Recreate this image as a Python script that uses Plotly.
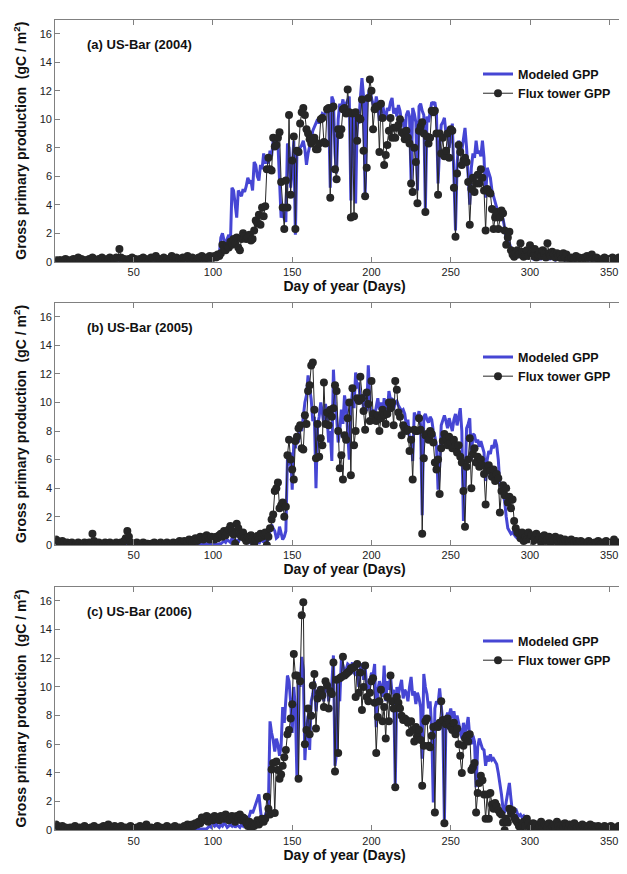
import plotly.graph_objects as go

# ---------------- data (daily GPP, gC/m2) ----------------
flux_2004_early = [
    0.1,0.0,0.1,0.1,0.0,0.1,0.2,0.1,0.0,0.1, 0.1,0.2,0.0,0.1,0.3,0.1,0.2,0.0,0.1,0.1,
    0.0,0.2,0.1,0.3,0.1,0.0,0.1,0.2,0.1,0.3, 0.2,0.1,0.0,0.2,0.3,0.1,0.2,0.1,0.3,0.2,
    0.9,0.3,0.1,0.2,0.0,0.1,0.2,0.1,0.3,0.1, 0.2,0.1,0.0,0.2,0.1,0.3,0.2,0.1,0.0,0.2,
    0.3,0.1,0.2,0.4,0.1,0.2,0.0,0.1,0.3,0.1, 0.2,0.0,0.1,0.4,0.2,0.1,0.3,0.0,0.2,0.1,
    0.3,0.2,0.1,0.4,0.2,0.1,0.3,0.2,0.0,0.1, 0.3,0.2,0.4,0.1,0.2,0.3,0.1,0.4,0.2,0.3]
flux_2004_season = [
    0.4,0.3,0.5,0.4,0.6,1.2,0.9,0.8,1.1,1.0, 1.4,1.2,1.6,1.3,1.7,1.0,0.8,1.6,2.0,1.8,
    1.6,1.7,1.9,1.5,1.6,2.2,2.9,2.7,3.3,2.6, 3.8,3.2,3.9,6.5,7.3,6.5,6.4,8.7,8.1,8.2,
    8.7,9.1,5.6,3.8,2.3,5.7,3.8,10.3,4.7,7.1, 8.8,2.3,7.8,7.7,9.7,10.5,10.8,10.3,9.3,9.0,
    8.6,8.3,8.5,8.7,7.9,7.9,8.3,10.0,10.1,8.4, 8.3,10.7,10.8,4.5,10.8,10.9,6.5,5.8,9.3,8.9,
    9.3,10.7,10.8,10.4,12.1,10.5,3.1,10.4,3.2,10.5, 8.5,10.1,10.0,11.4,7.8,4.6,6.6,11.5,12.8,12.0,
    9.3,10.7,10.9,10.9,7.7,11.1,10.1,6.8,7.5,8.2, 9.2,10.1,8.7,9.4,8.7,9.4,9.6,10.0,9.1,9.0,
    8.6,9.2,8.7,8.3,5.5,4.9,8.0,7.0,4.1,9.2, 9.5,9.8,9.0,3.5,8.8,8.3,8.7,10.6,10.5,10.6,
    9.0,4.7,9.0,7.6,8.7,7.4,7.8,9.0,7.3,9.3, 9.2,5.2,1.75,6.2,8.2,7.7,6.8,7.1,7.3,7.0,
    5.6,2.6,5.1,5.9,4.9,5.5,6.1,5.5,6.5,5.9, 5.0,2.2,5.1,4.9,4.8,3.7,2.3,3.1,3.5,2.3,
    3.1,3.6,3.4,2.2,1.2,1.7,2.1,0.8,0.5,0.35, 0.6,0.8,0.5,1.3,0.7,0.35,0.5,0.8,0.4,1.15]
flux_2004_late = [
    0.6,0.4,0.9,0.3,0.5,0.7,0.4,0.8,0.5,0.3, 1.3,0.6,0.4,0.7,0.5,0.3,0.6,0.4,0.5,0.2,
    0.6,0.3,0.5,0.1,0.2,0.3,0.1,0.2,0.4,0.1, 0.3,0.2,0.1,0.3,0.2,0.4,0.1,0.3,0.5,0.2,
    0.1,0.3,0.2,0.0,0.1,0.2,0.3,0.1,0.0,0.2, 0.1,0.3,0.2,0.0,0.1,0.3,0.2,0.1,0.2,0.3,
    0.1,0.2,0.3,0.1,0.2]

model_2004_early = [
    0.1,0.1,0.0,0.1,0.1,0.1,0.1,0.0,0.1,0.1, 0.1,0.1,0.1,0.0,0.1,0.1,0.1,0.1,0.0,0.1,
    0.1,0.1,0.1,0.1,0.0,0.1,0.1,0.1,0.1,0.1, 0.0,0.1,0.1,0.1,0.1,0.0,0.1,0.1,0.1,0.1,
    0.1,0.1,0.0,0.1,0.1,0.1,0.1,0.1,0.0,0.1, 0.1,0.1,0.1,0.0,0.1,0.1,0.1,0.1,0.1,0.0,
    0.1,0.1,0.1,0.1,0.1,0.0,0.1,0.1,0.1,0.1, 0.1,0.0,0.1,0.1,0.1,0.1,0.1,0.1,0.0,0.1,
    0.1,0.1,0.1,0.1,0.1,0.1,0.0,0.1,0.1,0.1, 0.1,0.1,0.1,0.1,0.2,0.1,0.1,0.2,0.1,0.2]
model_2004_season = [
    0.2,0.2,0.3,0.5,1.7,2.0,1.5,1.3,1.6,1.9, 1.2,5.2,5.0,4.0,3.1,5.0,4.8,4.6,5.1,4.9,
    5.3,5.9,5.6,5.7,5.0,7.0,6.8,6.0,5.7,6.8, 6.5,7.6,6.9,7.2,6.9,7.8,7.4,8.5,8.0,8.5,
    8.3,5.2,3.1,3.6,3.0,2.8,8.3,8.0,5.2,6.4, 8.5,1.9,7.8,7.6,8.0,8.2,8.5,7.9,6.8,7.6,
    8.0,8.6,9.2,9.5,9.8,10.0,9.7,10.1,10.4,10.3, 10.5,10.9,10.6,5.2,11.6,11.3,7.6,6.2,10.0,11.1,
    10.8,11.4,10.7,11.1,11.3,11.6,4.3,10.2,10.7,4.1, 10.0,9.7,11.5,12.9,11.6,4.5,11.3,11.8,12.2,11.5,
    11.0,10.6,11.6,11.0,9.9,10.5,11.1,10.4,10.0,10.8, 10.6,11.2,11.5,10.4,10.8,10.2,11.0,10.6,9.8,10.0,
    8.7,10.3,10.6,10.2,5.6,10.8,10.4,9.8,5.0,10.9, 11.1,10.6,10.3,3.6,10.2,9.8,10.5,11.2,11.1,11.2,
    10.4,5.5,8.0,9.6,9.8,10.1,9.0,9.4,8.0,9.0, 9.7,6.0,2.2,6.8,8.5,8.2,7.8,8.6,9.4,8.0,
    5.9,4.0,6.6,7.6,7.3,8.5,7.6,7.8,7.4,8.5, 7.3,4.5,6.6,6.3,5.9,5.0,4.6,4.2,3.8,3.4,
    3.6,3.4,3.0,2.4,1.5,1.6,1.3,1.0,0.6,0.5, 0.5,0.6,0.4,0.5,0.4,0.3,0.4,0.3,0.4,0.3]
model_2004_late = [
    0.3,0.2,0.3,0.2,0.3,0.2,0.2,0.3,0.2,0.2, 0.3,0.2,0.2,0.3,0.2,0.1,0.2,0.2,0.3,0.2,
    0.2,0.1,0.2,0.2,0.1,0.2,0.2,0.1,0.2,0.3, 0.2,0.3,0.4,0.3,0.2,0.2,0.1,0.2,0.1,0.1,
    0.2,0.1,0.1,0.2,0.1,0.1,0.1,0.2,0.1,0.1, 0.1,0.2,0.1,0.1,0.1,0.2,0.1,0.1,0.1,0.1,
    0.1,0.1,0.2,0.1,0.1]

flux_2005_early = [
    0.4,0.3,0.2,0.1,0.3,0.2,0.1,0.2,0.0,0.1, 0.2,0.1,0.0,0.1,0.2,0.1,0.0,0.1,0.2,0.0,
    0.1,0.2,0.1,0.8,0.3,0.1,0.0,0.2,0.1,0.0, 0.1,0.2,0.1,0.0,0.2,0.1,0.0,0.1,0.2,0.1,
    0.0,0.2,0.1,0.3,0.5,1.0,0.6,0.2,0.1,0.0, 0.1,0.2,0.1,0.0,0.1,0.2,0.0,0.1,0.1,0.0,
    0.1,0.0,0.2,0.1,0.0,0.1,0.2,0.1,0.0,0.1, 0.2,0.0,0.1,0.1,0.2,0.0,0.1,0.2,0.3,0.1,
    0.2,0.3,0.1,0.2,0.4,0.3,0.2,0.4,0.5,0.3, 0.4,0.6,0.5,0.4,0.6,0.7,0.5,0.4,0.6,0.5]
flux_2005_season = [
    0.4,0.6,0.5,0.7,0.8,0.6,1.0,0.7,0.9,1.1, 1.35,1.0,0.75,0.1,1.5,1.2,0.75,0.6,0.9,0.5,
    0.3,0.6,0.4,0.7,0.5,0.1,0.4,0.65,0.5,0.8, 0.6,0.75,0.9,0.0,0.6,1.2,1.8,2.15,3.8,4.0,
    4.4,2.6,2.8,3.0,2.0,2.7,6.3,7.4,6.0,5.3, 4.6,7.3,7.6,8.2,8.4,6.8,6.7,9.1,8.5,10.8,
    11.2,12.6,12.8,9.5,6.1,8.5,6.2,7.5,7.0,11.4, 8.5,9.3,8.4,9.5,9.0,9.6,11.2,10.8,8.0,5.4,
    6.3,4.6,7.7,7.4,8.9,10.0,4.9,11.0,7.0,8.0, 10.3,10.1,11.8,10.3,9.4,8.1,10.7,9.9,8.7,11.5,
    9.2,8.8,8.7,9.1,8.0,8.9,9.5,9.1,8.5,9.2, 10.0,9.6,10.0,8.4,11.5,10.9,9.3,9.0,7.7,8.4,
    8.2,8.0,8.1,6.6,7.4,4.6,8.1,8.0,8.0,8.9, 8.1,0.8,6.1,7.7,7.8,7.4,8.0,7.8,7.2,5.8,
    5.3,6.0,3.6,6.8,7.3,7.8,7.5,7.0,7.6,7.2, 6.8,7.4,7.0,6.5,7.0,6.2,5.8,3.8,1.3,5.5,
    6.0,7.5,4.0,6.4,6.8,5.8,6.2,5.5,6.0,5.6, 5.0,2.85,5.3,5.6,5.2,4.8,5.3,4.5,5.0,4.7,
    2.3,3.8,4.2,3.5,4.0,3.0,3.4,2.6,3.2,1.7, 1.2,0.9,0.8,0.5,0.9,0.3,0.6,0.4,0.9,0.5]
flux_2005_late = [
    0.7,0.3,0.5,0.8,0.4,0.6,0.2,0.5,0.7,0.3, 0.4,0.6,0.2,0.5,0.3,0.6,0.4,0.2,0.5,0.3,
    0.2,0.4,0.1,0.3,0.2,0.4,0.1,0.2,0.3,0.1, 0.2,0.3,0.1,0.2,0.0,0.1,0.3,0.2,0.1,0.0,
    0.2,0.1,0.3,0.0,0.1,0.2,0.1,0.3,0.2,0.0, 0.1,0.2,0.4,0.1,0.2,0.0,0.1,0.3,0.2,0.1,
    0.2,0.3,0.1,0.2,0.3]

model_2005_early = [
    0.1,0.1,0.0,0.1,0.1,0.0,0.1,0.1,0.1,0.0, 0.1,0.1,0.0,0.1,0.1,0.1,0.0,0.1,0.1,0.1,
    0.0,0.1,0.1,0.1,0.1,0.0,0.1,0.1,0.0,0.1, 0.1,0.1,0.0,0.1,0.1,0.1,0.1,0.0,0.1,0.1,
    0.0,0.1,0.1,0.1,0.1,0.1,0.0,0.1,0.1,0.0, 0.1,0.1,0.1,0.0,0.1,0.1,0.1,0.1,0.0,0.1,
    0.1,0.0,0.1,0.1,0.1,0.0,0.1,0.1,0.1,0.1, 0.0,0.1,0.1,0.1,0.0,0.1,0.1,0.1,0.1,0.0,
    0.1,0.1,0.1,0.0,0.1,0.1,0.1,0.1,0.1,0.0, 0.1,0.1,0.1,0.1,0.0,0.1,0.1,0.1,0.1,0.1]
model_2005_season = [
    0.1,0.1,0.0,0.1,0.1,0.2,0.3,0.2,0.4,0.3, 0.2,0.5,0.3,0.1,0.4,0.2,0.5,0.6,0.8,0.5,
    0.3,0.2,0.4,0.1,0.3,0.0,0.2,0.4,0.1,0.3, 0.5,0.2,0.4,0.1,0.6,1.0,1.45,1.2,1.0,0.5,
    0.6,1.3,0.8,0.4,0.6,1.0,6.1,5.6,6.5,3.9, 7.2,6.8,7.7,7.2,8.4,8.0,9.0,10.0,10.5,11.9,
    11.0,10.2,8.7,9.0,4.0,8.4,9.0,10.0,9.3,8.4, 9.9,9.0,7.2,8.0,5.9,12.3,10.0,9.0,7.2,8.0,
    9.5,8.5,10.5,9.8,7.9,6.0,9.5,10.8,9.6,12.1, 11.0,11.4,10.0,10.6,9.6,10.6,9.4,12.6,10.0,9.1,
    9.5,9.0,9.7,10.3,9.5,10.0,9.0,10.3,9.6,9.2, 10.8,10.2,10.3,9.5,10.0,10.1,9.8,9.6,9.4,9.5,
    9.2,8.4,8.8,7.4,7.6,5.9,9.3,9.0,8.8,9.4, 8.4,2.1,9.0,9.2,8.8,8.6,9.0,8.8,8.0,7.6,
    7.0,3.9,5.5,8.4,8.8,9.1,8.7,8.2,8.9,8.5, 8.0,8.8,9.2,8.4,9.0,9.6,8.0,1.7,4.5,8.2,
    8.5,8.9,6.0,7.8,7.7,7.2,7.4,6.9,7.3,6.8, 6.5,4.5,6.0,6.6,6.4,7.0,6.8,7.4,7.0,6.0,
    4.2,4.0,3.5,3.1,2.0,1.2,1.0,0.8,0.9,0.7, 0.6,0.5,0.6,0.5,0.4,0.4,0.5,0.4,0.3,0.4]
model_2005_late = [
    0.4,0.3,0.4,0.3,0.4,0.3,0.3,0.4,0.3,0.3, 0.3,0.2,0.3,0.3,0.2,0.3,0.2,0.2,0.3,0.2,
    0.2,0.3,0.2,0.2,0.2,0.1,0.2,0.2,0.1,0.2, 0.2,0.2,0.1,0.2,0.1,0.1,0.2,0.1,0.1,0.2,
    0.1,0.1,0.2,0.1,0.1,0.1,0.2,0.1,0.1,0.1, 0.1,0.1,0.1,0.2,0.1,0.1,0.1,0.1,0.1,0.1,
    0.1,0.1,0.1,0.1,0.1]

flux_2006_early = [
    0.4,0.3,0.1,0.2,0.3,0.1,0.2,0.0,0.1,0.2, 0.1,0.2,0.3,0.1,0.0,0.2,0.1,0.1,0.3,0.2,
    0.1,0.0,0.2,0.1,0.3,0.2,0.1,0.0,0.2,0.1, 0.3,0.1,0.2,0.4,0.1,0.0,0.2,0.3,0.1,0.2,
    0.1,0.3,0.0,0.2,0.1,0.2,0.1,0.3,0.2,0.0, 0.1,0.2,0.1,0.3,0.2,0.0,0.1,0.4,0.2,0.1,
    0.2,0.0,0.1,0.2,0.3,0.1,0.2,0.0,0.1,0.2, 0.3,0.1,0.0,0.2,0.1,0.3,0.2,0.1,0.2,0.0,
    0.1,0.3,0.2,0.4,0.2,0.3,0.4,0.3,0.5,0.4, 0.6,0.5,0.9,0.7,0.8,1.0,0.6,0.9,0.8,0.7]
flux_2006_season = [
    1.0,0.8,0.9,0.7,1.0,0.9,0.8,1.1,0.9,0.7, 0.8,1.0,0.9,0.6,1.0,0.8,1.1,0.7,0.9,0.8,
    0.5,0.3,0.6,0.2,0.4,0.3,0.5,0.7,0.4,0.6, 0.8,0.6,0.8,2.35,1.5,1.1,4.25,4.7,1.2,4.8,
    4.2,3.6,3.9,4.5,5.1,5.6,6.7,7.0,7.8,8.8, 12.3,10.8,10.8,3.6,10.4,15.0,15.9,6.0,7.0,8.5,
    6.7,8.0,10.1,10.9,7.1,9.2,9.6,9.8,9.4,8.6, 10.4,10.1,8.5,9.7,9.5,11.7,4.1,10.5,5.4,10.6,
    10.7,12.1,10.8,10.9,11.0,11.1,11.3,11.3,11.4,9.3, 11.6,9.6,11.0,8.4,10.0,11.5,9.3,9.0,9.6,10.4,
    10.6,8.9,5.4,7.9,9.0,9.8,7.6,8.6,6.4,9.3, 7.6,10.8,9.0,8.5,3.0,9.3,8.9,8.5,8.0,7.7,
    7.8,7.7,7.5,6.8,7.6,7.0,6.2,7.2,6.6,7.0, 6.3,3.1,5.9,7.6,7.8,5.9,5.8,6.6,7.2,1.24,
    7.3,7.2,7.5,9.0,7.7,0.5,7.4,7.8,7.5,7.2, 7.0,7.5,6.7,7.1,6.0,5.2,4.0,5.9,6.4,6.6,
    6.2,6.7,4.2,4.4,4.7,1.25,2.6,3.3,3.8,3.5, 2.5,0.8,2.5,0.8,2.6,1.8,1.5,1.9,1.7,1.4,
    1.2,1.1,0.55,0.0,0.8,0.55,1.5,1.2,1.4,0.9, 0.7,0.55,0.3,0.0,0.4,0.6,0.3,0.8,0.5,0.2]
flux_2006_late = [
    0.3,0.5,0.2,0.4,0.1,0.3,0.6,0.2,0.4,0.3, 0.2,0.5,0.1,0.3,0.4,0.2,0.6,0.3,0.1,0.4,
    0.2,0.5,0.3,0.1,0.4,0.2,0.3,0.5,0.1,0.2, 0.3,0.1,0.4,0.2,0.3,0.1,0.2,0.4,0.1,0.3,
    0.2,0.1,0.3,0.2,0.0,0.1,0.3,0.2,0.1,0.2, 0.3,0.1,0.2,0.0,0.1,0.3,0.2,0.1,0.2,0.3,
    0.1,0.2,0.3,0.1,0.2]

model_2006_early = [
    0.1,0.1,0.0,0.1,0.1,0.1,0.0,0.1,0.1,0.1, 0.1,0.0,0.1,0.1,0.1,0.1,0.0,0.1,0.1,0.1,
    0.0,0.1,0.1,0.1,0.1,0.1,0.0,0.1,0.1,0.1, 0.1,0.1,0.0,0.1,0.1,0.1,0.1,0.0,0.1,0.1,
    0.1,0.0,0.1,0.1,0.1,0.1,0.1,0.0,0.1,0.1, 0.1,0.1,0.0,0.1,0.1,0.1,0.1,0.1,0.0,0.1,
    0.1,0.1,0.1,0.0,0.1,0.1,0.1,0.1,0.1,0.0, 0.1,0.1,0.1,0.1,0.0,0.1,0.1,0.1,0.1,0.1,
    0.0,0.1,0.1,0.1,0.1,0.1,0.1,0.0,0.1,0.1, 0.1,0.1,0.1,0.1,0.1,0.1,0.2,0.3,0.2,0.4]
model_2006_season = [
    0.3,0.5,0.3,0.2,0.4,0.3,0.5,0.4,0.2,0.3, 0.4,0.3,0.5,0.2,0.4,0.3,0.2,0.4,0.3,0.5,
    0.6,0.8,1.0,1.4,1.2,1.5,1.8,2.2,2.5,1.4, 0.5,0.7,1.0,1.4,1.8,7.6,6.8,6.3,5.5,6.4,
    6.0,5.2,5.9,8.6,7.5,9.2,10.8,10.4,9.0,6.8, 10.0,8.5,3.6,11.0,10.0,12.1,11.2,4.9,7.0,8.0,
    5.6,9.0,9.5,10.4,8.3,9.5,10.0,9.4,9.6,9.0, 10.5,10.2,9.0,9.8,10.2,12.2,4.5,5.4,10.5,9.0,
    11.9,11.5,11.0,11.2,11.6,11.5,11.4,11.7,11.0,10.8, 11.1,10.0,11.5,11.6,10.5,11.4,10.0,9.6,10.5,11.0,
    10.8,11.6,7.2,9.8,10.4,10.0,9.3,11.5,9.0,10.4, 9.8,10.8,9.5,9.8,3.1,10.0,9.5,10.0,10.5,9.2,
    9.8,9.6,9.0,10.0,10.7,9.4,9.7,8.8,9.6,9.2, 8.6,5.0,10.9,10.0,9.5,8.5,9.0,7.0,1.95,8.5,
    9.0,8.8,9.9,8.7,7.5,0.55,7.8,8.2,8.0,8.5, 7.8,8.3,7.6,8.0,7.4,7.0,6.4,7.5,6.8,7.2,
    7.9,6.5,6.0,6.6,6.2,3.0,5.8,6.4,6.1,5.7, 5.6,4.5,5.2,4.8,5.3,4.9,5.0,4.8,4.6,4.0,
    3.3,2.5,1.5,1.2,2.0,2.8,3.3,2.2,1.2,1.3, 1.5,1.2,1.0,1.1,0.9,1.0,0.8,1.0,0.7,0.6]
model_2006_late = [
    0.6,0.5,0.5,0.4,0.5,0.4,0.4,0.3,0.4,0.3, 0.3,0.4,0.3,0.3,0.2,0.3,0.3,0.2,0.3,0.2,
    0.2,0.3,0.2,0.2,0.2,0.3,0.2,0.2,0.2,0.1, 0.2,0.2,0.1,0.2,0.2,0.1,0.2,0.1,0.2,0.3,
    0.4,0.3,0.2,0.2,0.1,0.1,0.2,0.1,0.1,0.1, 0.1,0.1,0.2,0.1,0.1,0.1,0.1,0.2,0.1,0.1,
    0.1,0.1,0.1,0.1,0.1]

panel_titles = ["(a) US-Bar (2004)", "(b) US-Bar (2005)", "(c) US-Bar (2006)"]
x_ticks = [50, 100, 150, 200, 250, 300, 350]
y_ticks = [0, 2, 4, 6, 8, 10, 12, 14, 16]

flux = [flux_2004_early + flux_2004_season + flux_2004_late,
        flux_2005_early + flux_2005_season + flux_2005_late,
        flux_2006_early + flux_2006_season + flux_2006_late]
model = [model_2004_early + model_2004_season + model_2004_late,
         model_2005_early + model_2005_season + model_2005_late,
         model_2006_early + model_2006_season + model_2006_late]
for s in flux + model:
    assert len(s) == 365, len(s)
days = list(range(1, 366))

# ---------------- layout ----------------
W, H = 627, 874
panel_px = [(11.7, 255.5), (296.6, 541.0), (582.6, 828.0)]
x_dom = [47.2 / W, 626.0 / W]
FONT = "Liberation Sans, Arial, Helvetica, sans-serif"
BLUE = "rgb(70,70,212)"
DARK = "#262626"
AXC = "#808080"

fig = go.Figure()
layout = dict(width=W, height=H, margin=dict(l=0, r=0, t=0, b=0),
              paper_bgcolor="white", plot_bgcolor="white",
              font=dict(family=FONT, color="#111"), annotations=[])

for i in range(3):
    top, bot = panel_px[i]
    sfx = "" if i == 0 else str(i + 1)
    xa, ya = "x" + sfx, "y" + sfx
    lg = "legend" + sfx
    fig.add_trace(go.Scatter(x=days, y=model[i], mode="lines", name="<b>Modeled GPP</b>",
                             line=dict(color=BLUE, width=3), xaxis=xa, yaxis=ya,
                             legend=lg))
    fig.add_trace(go.Scatter(x=days, y=flux[i], mode="lines+markers",
                             name="<b>Flux tower GPP</b>",
                             line=dict(color=DARK, width=1),
                             marker=dict(size=8, color=DARK), xaxis=xa, yaxis=ya,
                             legend=lg))
    dom_y = [1 - bot / H, 1 - top / H]
    layout["xaxis" + sfx] = dict(domain=x_dom, anchor=ya, range=[0.5, 365.6],
                                 tickvals=x_ticks, ticks="inside", ticklen=5,
                                 tickcolor=AXC, showline=True, linecolor=AXC,
                                 linewidth=1, mirror="ticks", showgrid=False,
                                 zeroline=False, tickfont=dict(size=11, color="#222"),
                                 title=dict(text="<b>Day of year (Days)</b>",
                                            font=dict(size=14, color="#111"), standoff=3))
    layout["yaxis" + sfx] = dict(domain=dom_y, anchor=xa, range=[0, 17],
                                 tickvals=y_ticks, ticks="inside", ticklen=5,
                                 tickcolor=AXC, showline=True, linecolor=AXC,
                                 linewidth=1, mirror="ticks", showgrid=False,
                                 zeroline=False, tickfont=dict(size=11, color="#222"),
                                 title=dict(text="<b>Gross primary production\u00a0\u00a0(gC / m<sup>2</sup>)</b>",
                                            font=dict(size=14, color="#111"), standoff=9))
    layout[lg] = dict(x=470 / W, xanchor="left", y=1 - (top + 40) / H, yanchor="top",
                      bgcolor="rgba(0,0,0,0)", font=dict(size=12.5, color="#111"),
                      itemwidth=30, tracegroupgap=0)
    layout["annotations"].append(dict(text="<b>" + panel_titles[i] + "</b>",
                                      xref="paper", yref="paper", x=77 / W,
                                      y=1 - (top + 25) / H, xanchor="left",
                                      yanchor="middle", showarrow=False,
                                      font=dict(size=13, color="#111")))

fig.update_layout(**layout)
fig.write_html("out.html")
